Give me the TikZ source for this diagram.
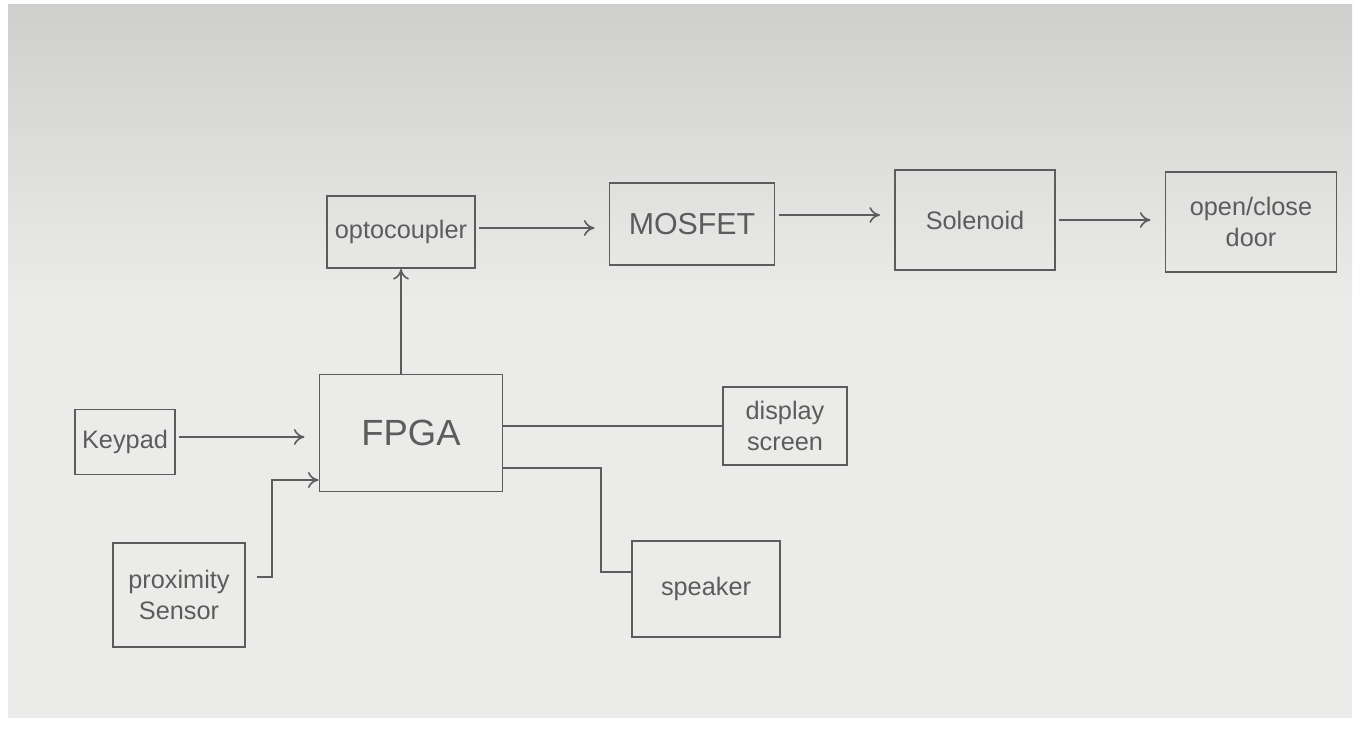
\documentclass[tikz,border=0pt]{standalone}
\usepackage{fontspec}
\setmainfont{Liberation Sans}
\usetikzlibrary{arrows.meta}
\definecolor{pen}{HTML}{5C5C5C}
\definecolor{paper}{HTML}{EBEBE9}
\definecolor{shade}{HTML}{CFCFCD}

\begin{document}
\begin{tikzpicture}[x=0.02cm, y=-0.02cm,
		box/.style={draw=pen, line width=1.1pt, text=pen, align=center, inner sep=2pt, font=\Large},
		wire/.style={draw=pen, line width=0.9pt},
		arr/.style={wire, -{To[length=6pt, width=9pt]}},
		gap/.style={shorten >=8pt, shorten <=2pt}]
	\useasboundingbox (0,0) rectangle (1358,743);
	\fill[white] (0,0) rectangle (1358,743);
	\shade[top color=shade, bottom color=paper] (8,5) rectangle (1352,300);
	\fill[paper] (8,299) rectangle (1352,718);
	\node[box, minimum width=148*0.02cm, minimum height=72*0.02cm] (opto) at (401,232) {optocoupler};
	\node[box, minimum width=165*0.02cm, minimum height=82*0.02cm, font=\LARGE] (mosfet) at (692,224) {MOSFET};
	\node[box, minimum width=160*0.02cm, minimum height=100*0.02cm] (sol) at (975,220) {Solenoid};
	\node[box, minimum width=171*0.02cm, minimum height=100*0.02cm] (door) at (1251,222) {open/close\\door};
	\node[box, minimum width=100*0.02cm, minimum height=65*0.02cm] (keypad) at (125,442) {Keypad};
	\node[box, minimum width=183*0.02cm, minimum height=117*0.02cm, font=\huge] (fpga) at (411,433) {FPGA};
	\node[box, minimum width=124*0.02cm, minimum height=78*0.02cm] (disp) at (785,426) {display\\screen};
	\node[box, minimum width=132*0.02cm, minimum height=104*0.02cm] (prox) at (179,595) {proximity\\Sensor};
	\node[box, minimum width=148*0.02cm, minimum height=96*0.02cm] (spk) at (706,589) {speaker};
	\coordinate (oy) at (0,228);
	\coordinate (my) at (0,215);
	\coordinate (ky) at (0,437);
	\coordinate (pa) at (272,577);
	\coordinate (pb) at (272,480);
	\coordinate (sa) at (601,468);
	\coordinate (sb) at (601,572);
	\draw[arr] (fpga.north -| opto) -- (opto.south);
	\draw[arr, gap] (opto.east |- oy) -- (mosfet.west |- oy);
	\draw[arr, gap] (mosfet.east |- my) -- (sol.west |- my);
	\draw[arr, gap] (sol.east) -- (door.west |- sol.east);
	\draw[arr, gap] (keypad.east |- ky) -- (fpga.west |- ky);
	\draw[wire] (fpga.east |- disp) -- (disp.west);
	\draw[arr, shorten <=6pt] (prox.east |- pa) -- (pa) -- (pb) -- (fpga.west |- pb);
	\draw[wire] (fpga.east |- sa) -- (sa) -- (sb) -- (spk.west |- sb);
\end{tikzpicture}
\end{document}
